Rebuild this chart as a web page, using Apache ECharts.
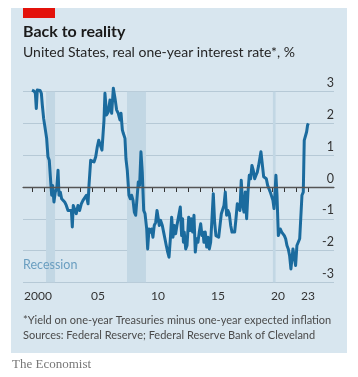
<!DOCTYPE html>
<html><head><meta charset="utf-8">
<script src="https://cdn.jsdelivr.net/npm/echarts@6/dist/echarts.min.js"></script>
<style>html,body{margin:0;padding:0;background:#fff;}#c{width:358px;height:377px;}</style>
</head><body><div id="c"></div>
<script>
const years = [2000.00,2000.17,2000.28,2000.36,2000.44,2000.56,2000.67,2000.78,2000.86,2000.97,
2001.11,2001.22,2001.33,2001.44,2001.56,2001.64,2001.72,2001.83,2001.94,2002.06,2002.17,2002.25,2002.36,2002.47,2002.58,2002.72,2002.86,
2003.00,2003.14,2003.28,2003.36,2003.44,2003.56,2003.69,2003.83,2003.97,2004.11,2004.25,2004.39,2004.53,2004.67,2004.75,2004.89,
2005.03,2005.17,2005.31,2005.44,2005.56,2005.72,2005.83,2006.00,2006.08,2006.22,2006.36,2006.50,2006.64,2006.78,2006.92,
2007.05,2007.19,2007.33,2007.42,2007.53,2007.61,2007.75,2007.83,2007.94,2008.08,2008.19,2008.30,2008.42,2008.53,2008.64,2008.75,2008.86,2008.97,
2009.08,2009.19,2009.31,2009.42,2009.56,2009.64,2009.75,2009.86,2009.97,2010.08,2010.19,2010.31,2010.42,2010.53,2010.61,2010.72,2010.86,2010.97,
2011.08,2011.19,2011.31,2011.42,2011.53,2011.64,2011.75,2011.86,2011.97,2012.08,2012.19,2012.36,2012.47,2012.55,2012.62,2012.69,2012.81,2012.92,
2013.06,2013.17,2013.28,2013.39,2013.50,2013.61,2013.72,2013.83,2013.94,2014.06,2014.17,2014.25,2014.33,2014.44,2014.56,2014.67,2014.78,2014.89,
2015.00,2015.11,2015.22,2015.33,2015.44,2015.56,2015.67,2015.78,2015.89,2016.00,2016.11,2016.22,2016.33,2016.44,2016.56,2016.67,2016.78,2016.89,
2017.00,2017.11,2017.22,2017.33,2017.44,2017.56,2017.67,2017.78,2017.89,2018.00,2018.11,2018.22,2018.33,2018.44,2018.56,2018.67,2018.78,2018.89,
2019.00,2019.08,2019.19,2019.31,2019.42,2019.53,2019.64,2019.75,2019.86,2020.00,2020.08,2020.17,2020.25,2020.33,2020.42,2020.53,2020.61,2020.69,2020.81,2020.92,
2021.03,2021.14,2021.25,2021.36,2021.47,2021.58,2021.67,2021.75,2021.86,2021.97,2022.08,2022.19,2022.31,2022.42,2022.50,2022.61,2022.69,2022.81,2022.89,2022.97,2023.03];
const rates = [3.05,3.02,2.95,2.47,3.05,3.00,3.04,2.95,2.58,2.16,
2.10,1.53,0.95,0.84,0.16,-0.26,0.05,-0.47,-0.16,-0.05,0.53,-0.26,-0.16,-0.37,-0.32,-0.47,-0.58,
-0.74,-0.79,-0.74,-1.26,-0.58,-0.53,-0.84,-0.58,-0.74,-0.53,-0.42,-0.47,-0.26,-0.53,0.05,0.84,
0.89,0.79,0.95,1.26,1.47,1.42,1.16,2.10,2.95,2.27,2.37,2.74,2.32,3.11,2.79,
2.43,2.32,2.11,2.32,1.80,1.69,1.53,0.89,0.53,-0.26,-0.37,-0.26,-0.42,-0.79,-0.89,-0.37,0.16,0.05,
1.11,0.47,-0.74,-0.84,-1.32,-1.95,-1.32,-1.42,-1.32,-1.58,-1.21,-1.11,-0.74,-0.68,-1.21,-1.05,-1.21,-1.42,
-1.63,-1.84,-2.05,-2.21,-1.63,-0.95,-1.58,-1.21,-1.47,-1.21,-1.26,-0.63,-1.53,-1.00,-1.74,-1.42,-1.95,-1.84,
-0.95,-1.37,-1.00,-1.42,-0.89,-2.05,-1.63,-1.74,-1.42,-1.16,-1.53,-1.42,-1.74,-1.42,-1.89,-1.58,-1.95,-1.74,
-1.00,-0.21,-1.11,-1.53,-1.58,-1.58,-1.53,-0.84,-0.79,-0.58,-0.16,-0.89,-0.74,-0.84,-1.21,-1.42,-1.42,-1.42,
-1.00,-0.53,-0.47,-0.74,0.21,-0.58,-0.79,-0.16,-1.00,-0.16,0.37,0.26,0.68,0.53,0.26,0.37,0.47,0.68,
0.68,1.11,1.05,0.32,0.37,0.26,0.05,0.10,-0.16,-0.21,-0.42,-0.68,-0.21,0.37,-0.26,-1.53,-1.58,-1.32,-1.42,-1.42,
-1.53,-1.63,-1.84,-1.95,-2.16,-2.58,-2.63,-1.95,-1.95,-2.47,-1.84,-1.74,-1.63,-1.63,-0.26,-0.16,1.47,1.42,1.74,1.95,2.00];
const recessions = [[2001.17, 2001.92], [2007.92, 2009.5], [2020.08, 2020.30]];
const yTicks = [-3, -2, -1, 0, 1, 2, 3];
const tickYears = [2000,2001,2002,2003,2004,2005,2006,2007,2008,2009,2010,2011,2012,2013,2014,2015,2016,2017,2018,2019,2020,2021,2022,2023];
const xLabelPos = [2000.5, 2005.5, 2010.5, 2015.5, 2020.5, 2023];
const xLabelText = ['2000', '05', '10', '15', '20', '23'];

const chart = echarts.init(document.getElementById('c'), null, {renderer: 'canvas'});
const FONT = 'Lato, "Open Sans", sans-serif';
const option = {
  animation: false,
  backgroundColor: '#ffffff',
  graphic: [
    {type: 'rect', z: -10, shape: {x: 11, y: 8, width: 336, height: 345}, style: {fill: '#d8e6ef'}},
    {type: 'rect', z: 100, shape: {x: 23, y: 8, width: 32, height: 10}, style: {fill: '#e3120b'}},
    {type: 'text', z: 100, left: 23, top: 24, style: {text: 'Back to reality', font: 'bold 16px ' + FONT, fill: '#1a1a1a'}},
    {type: 'text', z: 100, left: 23, top: 45, style: {text: 'United States, real one-year interest rate*, %', font: '14px ' + FONT, fill: '#262626'}},
    {type: 'text', z: 100, left: 23, top: 258, style: {text: 'Recession', font: '12.5px ' + FONT, fill: '#6a9ec0'}},
    {type: 'text', z: 100, left: 23, top: 315, style: {text: '*Yield on one-year Treasuries minus one-year expected inflation', font: '11px ' + FONT, fill: '#4a4a4a'}},
    {type: 'text', z: 100, left: 23, top: 330, style: {text: 'Sources: Federal Reserve; Federal Reserve Bank of Cleveland', font: '11px ' + FONT, fill: '#4a4a4a'}},
    {type: 'text', z: 100, left: 12, top: 358, style: {text: 'The Economist', font: '13px "Liberation Serif", "DejaVu Serif", serif', fill: '#777777'}}
  ],
  grid: {left: 23, right: 24, top: 91.7, height: 190.6, containLabel: false},
  xAxis: {
    type: 'value', min: 1999.25, max: 2025.17,
    splitLine: {show: false},
    axisLine: {show: true, lineStyle: {color: '#333', width: 1}},
    axisTick: {show: true, customValues: tickYears, length: 5, lineStyle: {color: '#333', width: 1}},
    axisLabel: {
      show: true, customValues: xLabelPos, margin: 8, color: '#333', fontSize: 12, fontFamily: FONT,
      formatter: function (v) { const i = xLabelPos.findIndex(p => Math.abs(p - v) < 1e-6); return i >= 0 ? xLabelText[i] : ''; }
    }
  },
  yAxis: {
    type: 'value', min: -3, max: 3, interval: 1, position: 'right',
    axisLine: {show: false}, axisTick: {show: false},
    splitLine: {show: true, lineStyle: {color: '#b6c9d6', width: 1}},
    axisLabel: {inside: true, margin: 0, verticalAlign: 'bottom', padding: [0, 0, 2, 0], color: '#333', fontSize: 12.5, fontFamily: FONT,
      formatter: v => yTicks.includes(v) ? String(v) : ''}
  },
  series: [
    {
      type: 'line', silent: true, z: 1, data: [],
      markArea: {silent: true, itemStyle: {color: '#c2d7e4'}, data: recessions.map(r => [{xAxis: r[0]}, {xAxis: r[1]}])},
      markLine: {silent: true, symbol: 'none', label: {show: false}, lineStyle: {color: '#555', width: 1.3, type: 'solid'}, data: [{yAxis: 0}]}
    },
    {
      type: 'line', z: 3, showSymbol: false, symbol: 'none', clip: false,
      lineStyle: {color: '#1b6b9e', width: 3, join: 'round'},
      data: years.map((y, i) => [y, rates[i]])
    }
  ]
};
chart.setOption(option);
</script></body></html>
